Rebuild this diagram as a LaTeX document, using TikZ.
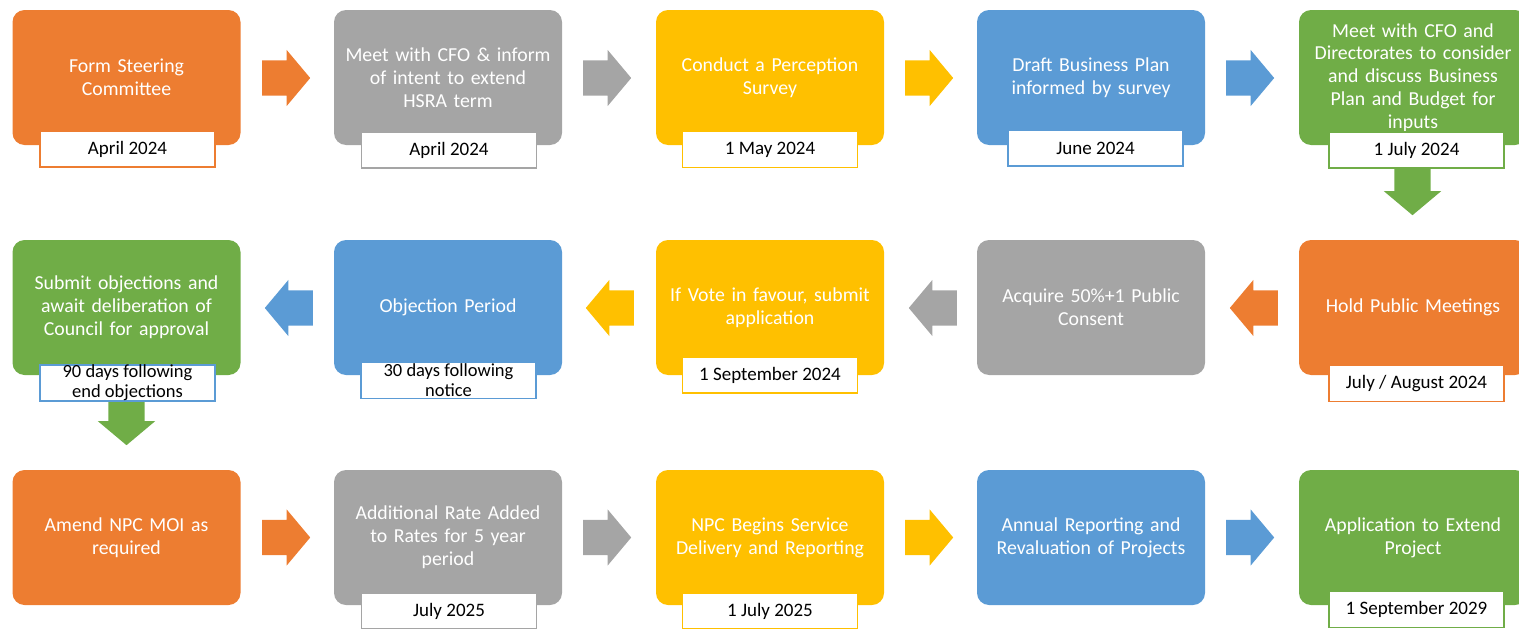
\documentclass[tikz,border=0pt]{standalone}
\usepackage{fontspec}
\setmainfont{Carlito}
\usetikzlibrary{shapes.arrows}
\definecolor{orng}{HTML}{ED7D31}
\definecolor{gry}{HTML}{A5A5A5}
\definecolor{yllw}{HTML}{FFC000}
\definecolor{blu}{HTML}{5B9BD5}
\definecolor{grn}{HTML}{70AD47}
\begin{document}
\begin{tikzpicture}[
        x=1pt,
        y=-1pt,
        font=\fontsize{19}{23}\selectfont
    ]
    \tikzset{
        stepbox/.style = {rectangle, rounded corners=12pt, minimum width=228pt, minimum height=135pt, text width=226pt, align=center, text=white, inner sep=0pt, font=\fontsize{19.8}{22.8}\selectfont},
        datebox/.style = {rectangle, draw, fill=white, line width=1.2pt, minimum width=175pt, minimum height=36pt, inner sep=0pt, align=center, text=black},
        datesm/.style = {datebox, font=\fontsize{18.5}{20}\selectfont},
        blockr/.style = {single arrow, single arrow head extend=10.5pt, single arrow tip angle=100, minimum height=48pt, inner xsep=0pt, inner ysep=17.5pt, anchor=tail},
        blockl/.style = {blockr, shape border rotate=180},
        blockd/.style = {blockr, inner xsep=18pt, inner ysep=0pt, minimum height=65pt, shape border rotate=270},
    }
    \useasboundingbox (0,0) rectangle (1519,629);
    \clip (0,0) rectangle (1519,629);
    %
    \node[blockr, fill=orng] at (262,78) (a11) {};
    \node[blockr, fill=gry] at (583,78) (a12) {};
    \node[blockr, fill=yllw] at (905,78) (a13) {};
    \node[blockr, fill=blu] at (1226,78) (a14) {};
    \node[blockd, fill=grn] at (1412.5,150) (a15) {};
    %
    \node[blockl, fill=blu] at (313,308) (a21) {};
    \node[blockl, fill=yllw] at (634,308) (a22) {};
    \node[blockl, fill=gry] at (957,308) (a23) {};
    \node[blockl, fill=orng] at (1278,308) (a24) {};
    \node[blockd, fill=grn, minimum height=68pt] at (126.5,377) (a25) {};
    %
    \node[blockr, fill=orng] at (262,537.5) (a31) {};
    \node[blockr, fill=gry] at (583,537.5) (a32) {};
    \node[blockr, fill=yllw] at (905,537.5) (a33) {};
    \node[blockr, fill=blu] at (1226,537.5) (a34) {};
    %
    \node[stepbox, fill=orng] at (126.5,77.5) (s11) {Form Steering\\Committee};
    \node[stepbox, fill=gry] at (448,77.5) (s12) {Meet with CFO \& inform\\of intent to extend\\HSRA term};
    \node[stepbox, fill=yllw] at (770,77.5) (s13) {Conduct a Perception\\Survey};
    \node[stepbox, fill=blu] at (1091,77.5) (s14) {Draft Business Plan\\informed by survey};
    \node[stepbox, fill=grn] at (1413,77.5) (s15) {Meet with CFO and\\Directorates to consider\\and discuss Business\\Plan and Budget for\\inputs};
    %
    \node[stepbox, fill=grn] at (126.5,307.5) (s21) {Submit objections and\\await deliberation of\\Council for approval};
    \node[stepbox, fill=blu] at (448,307.5) (s22) {Objection Period};
    \node[stepbox, fill=yllw] at (770,307.5) (s23) {If Vote in favour, submit\\application};
    \node[stepbox, fill=gry] at (1091,307.5) (s24) {Acquire 50\%+1 Public\\Consent};
    \node[stepbox, fill=orng] at (1413,307.5) (s25) {Hold Public Meetings};
    %
    \node[stepbox, fill=orng] at (126.5,537.5) (s31) {Amend NPC MOI as\\required};
    \node[stepbox, fill=gry] at (448,537.5) (s32) {Additional Rate Added\\to Rates for 5 year\\period};
    \node[stepbox, fill=yllw] at (770,537.5) (s33) {NPC Begins Service\\Delivery and Reporting};
    \node[stepbox, fill=blu] at (1091,537.5) (s34) {Annual Reporting and\\Revaluation of Projects};
    \node[stepbox, fill=grn] at (1413,537.5) (s35) {Application to Extend\\Project};
    %
    \node[datebox, draw=orng] at (127.5,149) (d11) {April 2024};
    \node[datebox, draw=gry] at (449,150) (d12) {April 2024};
    \node[datebox, draw=yllw] at (770,149.5) (d13) {1 May 2024};
    \node[datebox, draw=blu] at (1095.5,148) (d14) {June 2024};
    \node[datebox, draw=grn] at (1416.5,150) (d15) {1 July 2024};
    %
    \node[datesm, draw=blu] at (127.5,383) (d21) {90 days following\\end objections};
    \node[datesm, draw=blu] at (448.5,380.5) (d22) {30 days following\\notice};
    \node[datebox, draw=yllw] at (770,375) (d23) {1 September 2024};
    \node[datebox, draw=orng] at (1416.5,383.5) (d25) {July / August 2024};
    %
    \node[datebox, draw=gry] at (449,611) (d32) {July 2025};
    \node[datebox, draw=yllw] at (770,611) (d33) {1 July 2025};
    \node[datebox, draw=grn] at (1416.5,609.5) (d35) {1 September 2029};
\end{tikzpicture}
\end{document}
